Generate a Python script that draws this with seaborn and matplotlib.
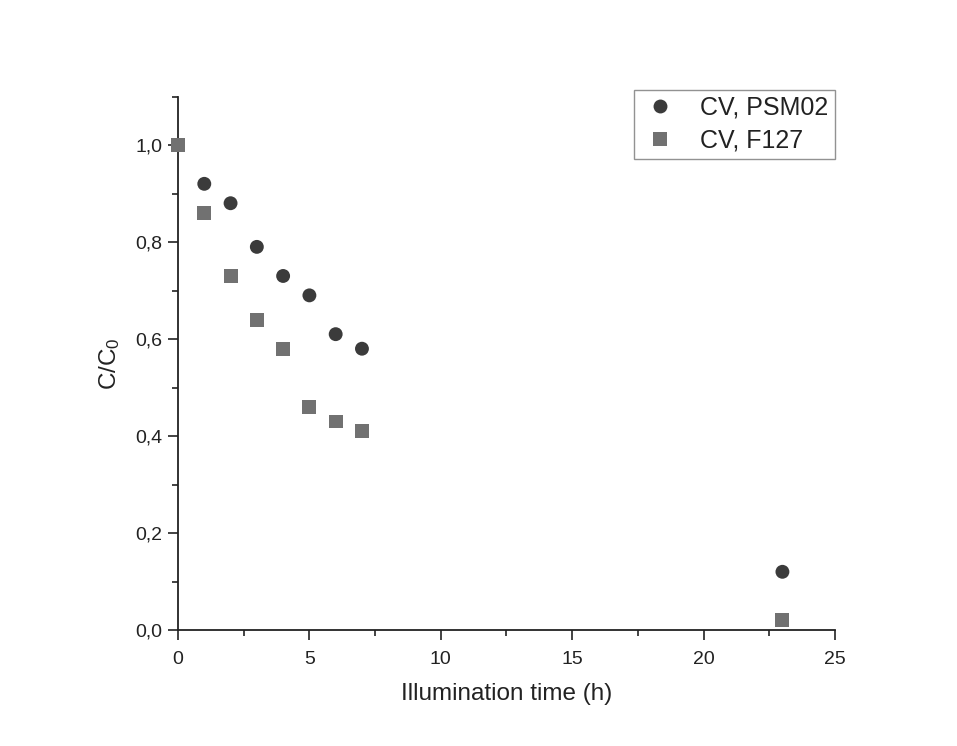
import numpy as np
import pandas as pd
import matplotlib
matplotlib.use("Agg")
import matplotlib.pyplot as plt
from matplotlib.ticker import MultipleLocator, FuncFormatter
import seaborn as sns

time_h = [0, 1, 2, 3, 4, 5, 6, 7, 23]
cv_psm02 = [1.00, 0.92, 0.88, 0.79, 0.73, 0.69, 0.61, 0.58, 0.12]
cv_f127 = [1.00, 0.86, 0.73, 0.64, 0.58, 0.46, 0.43, 0.41, 0.02]
series_names = ["CV, PSM02", "CV, F127"]

df = pd.DataFrame({
    "time": time_h * 2,
    "ratio": cv_psm02 + cv_f127,
    "series": [series_names[0]] * len(time_h) + [series_names[1]] * len(time_h),
})

sns.set_style("ticks")
plt.rcParams["font.family"] = ["Liberation Sans", "DejaVu Sans"]
plt.rcParams["mathtext.fontset"] = "custom"
plt.rcParams["mathtext.rm"] = "Liberation Sans"
plt.rcParams["mathtext.it"] = "Liberation Sans"

fig = plt.figure(figsize=(9.57, 7.46), dpi=100)
ax = fig.add_axes([0.186, 0.1555, 0.6865, 0.7151])

sns.scatterplot(
    data=df, x="time", y="ratio", hue="series", style="series",
    palette={series_names[0]: "#3b3b3b", series_names[1]: "#717171"},
    markers={series_names[0]: "o", series_names[1]: "s"},
    s=100, linewidth=0, ax=ax, legend=True, clip_on=False, zorder=3,
)
for coll, sz in zip(ax.collections, [100, 80]):
    coll.set_sizes([sz])

ax.set_xlim(0, 25)
ax.set_ylim(0, 1.1)
ax.xaxis.set_major_locator(MultipleLocator(5))
ax.xaxis.set_minor_locator(MultipleLocator(2.5))
ax.yaxis.set_major_locator(MultipleLocator(0.2))
ax.yaxis.set_minor_locator(MultipleLocator(0.1))
ax.yaxis.set_major_formatter(FuncFormatter(lambda v, p: f"{v:.1f}".replace(".", ",")))

sns.despine(ax=ax)
for sp in ["left", "bottom"]:
    ax.spines[sp].set_linewidth(1.3)
    ax.spines[sp].set_color("#222222")
ax.tick_params(which="major", direction="out", length=7, width=1.2, color="#222222",
               labelsize=14, labelcolor="#222222", pad=4)
ax.tick_params(axis="x", which="major", pad=8)
ax.tick_params(which="minor", direction="out", length=4, width=1.2, color="#222222")

ax.set_xlabel("Illumination time (h)", fontsize=17.5, color="#222222", labelpad=11)
ax.set_ylabel(r"C/C$_0$", fontsize=17.5, color="#222222", labelpad=10)

handles, labels = ax.get_legend_handles_labels()
leg = ax.legend(handles, labels, loc="upper right", bbox_to_anchor=(1.0, 1.013),
                borderaxespad=0, frameon=True, fancybox=False, fontsize=18,
                handletextpad=0.8, borderpad=0.25, labelspacing=0.35,
                markerscale=1.0, handlelength=1.6)
leg.get_frame().set_edgecolor("#777777")
leg.get_frame().set_linewidth(1.0)
for t in leg.get_texts():
    t.set_color("#222222")

fig.savefig("out.png", dpi=100, facecolor="white")
